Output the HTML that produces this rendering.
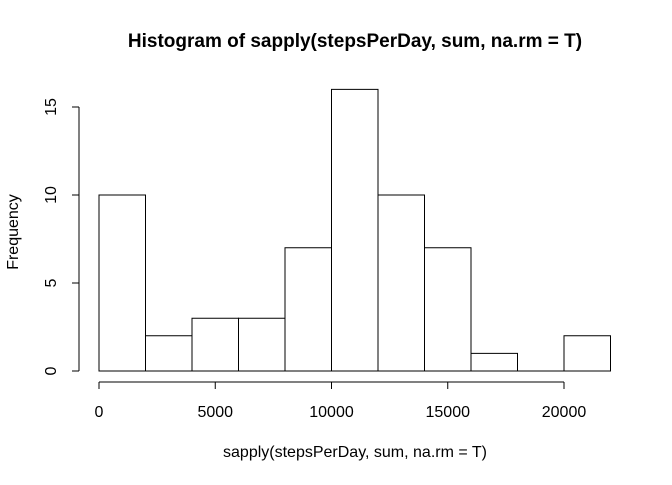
<!DOCTYPE html>
<html><head><meta charset="utf-8"><style>
body{margin:0;background:#fff}
svg text{font-family:"Liberation Sans",Arial,sans-serif;fill:#000}
</style></head><body>
<svg width="672" height="480">
<rect width="672" height="480" fill="#fff"/>
<text x="355" y="47" text-anchor="middle" font-size="19" font-weight="bold">Histogram of sapply(stepsPerDay, sum, na.rm = T)</text>
<text x="355" y="457" text-anchor="middle" font-size="16">sapply(stepsPerDay, sum, na.rm = T)</text>
<text transform="translate(18,232) rotate(-90)" text-anchor="middle" font-size="16">Frequency</text>
<g id="bars"></g>
<g id="xaxis"></g>
<g id="yaxis"></g>
</svg>
<script>
const breaks=[0,2000,4000,6000,8000,10000,12000,14000,16000,18000,20000,22000];
const counts=[10,2,3,3,7,16,10,7,1,0,2];
const xTicks=[0,5000,10000,15000,20000];
const yTicks=[0,5,10,15];
const X=v=>99+v*(564-99)/20000;
const Y=v=>371-v*(371-107)/15;
const NS="http://www.w3.org/2000/svg";
function mk(t,a,p){const e=document.createElementNS(NS,t);for(const k in a)e.setAttribute(k,a[k]);p.appendChild(e);return e;}
const bars=document.getElementById('bars');
counts.forEach((c,i)=>{
 const x0=X(breaks[i]),x1=X(breaks[i+1]),y0=Y(0),y1=Y(c);
 const r=mk('path',{d:`M${x0},${y0}V${y1}H${x1}V${y0}Z`,fill:'#fff',stroke:'#000','stroke-width':1},bars);
 
 
});
const xa=document.getElementById('xaxis');
mk('line',{x1:X(xTicks[0]),x2:X(xTicks[xTicks.length-1]),y1:382,y2:382,stroke:'#000'},xa);
xTicks.forEach(t=>{
 mk('line',{x1:X(t),x2:X(t),y1:382,y2:389,stroke:'#000'},xa);
 const tx=mk('text',{x:X(t),y:417,'text-anchor':'middle','font-size':16},xa);tx.textContent=t;
 
 
});
const ya=document.getElementById('yaxis');
mk('line',{x1:79,x2:79,y1:Y(yTicks[0]),y2:Y(yTicks[yTicks.length-1]),stroke:'#000'},ya);
yTicks.forEach(t=>{
 mk('line',{x1:72,x2:79,y1:Y(t),y2:Y(t),stroke:'#000'},ya);
 const tx=mk('text',{transform:`translate(56,${Y(t)}) rotate(-90)`,'text-anchor':'middle','font-size':16},ya);tx.textContent=t;
 
 
});
</script>
</body></html>
